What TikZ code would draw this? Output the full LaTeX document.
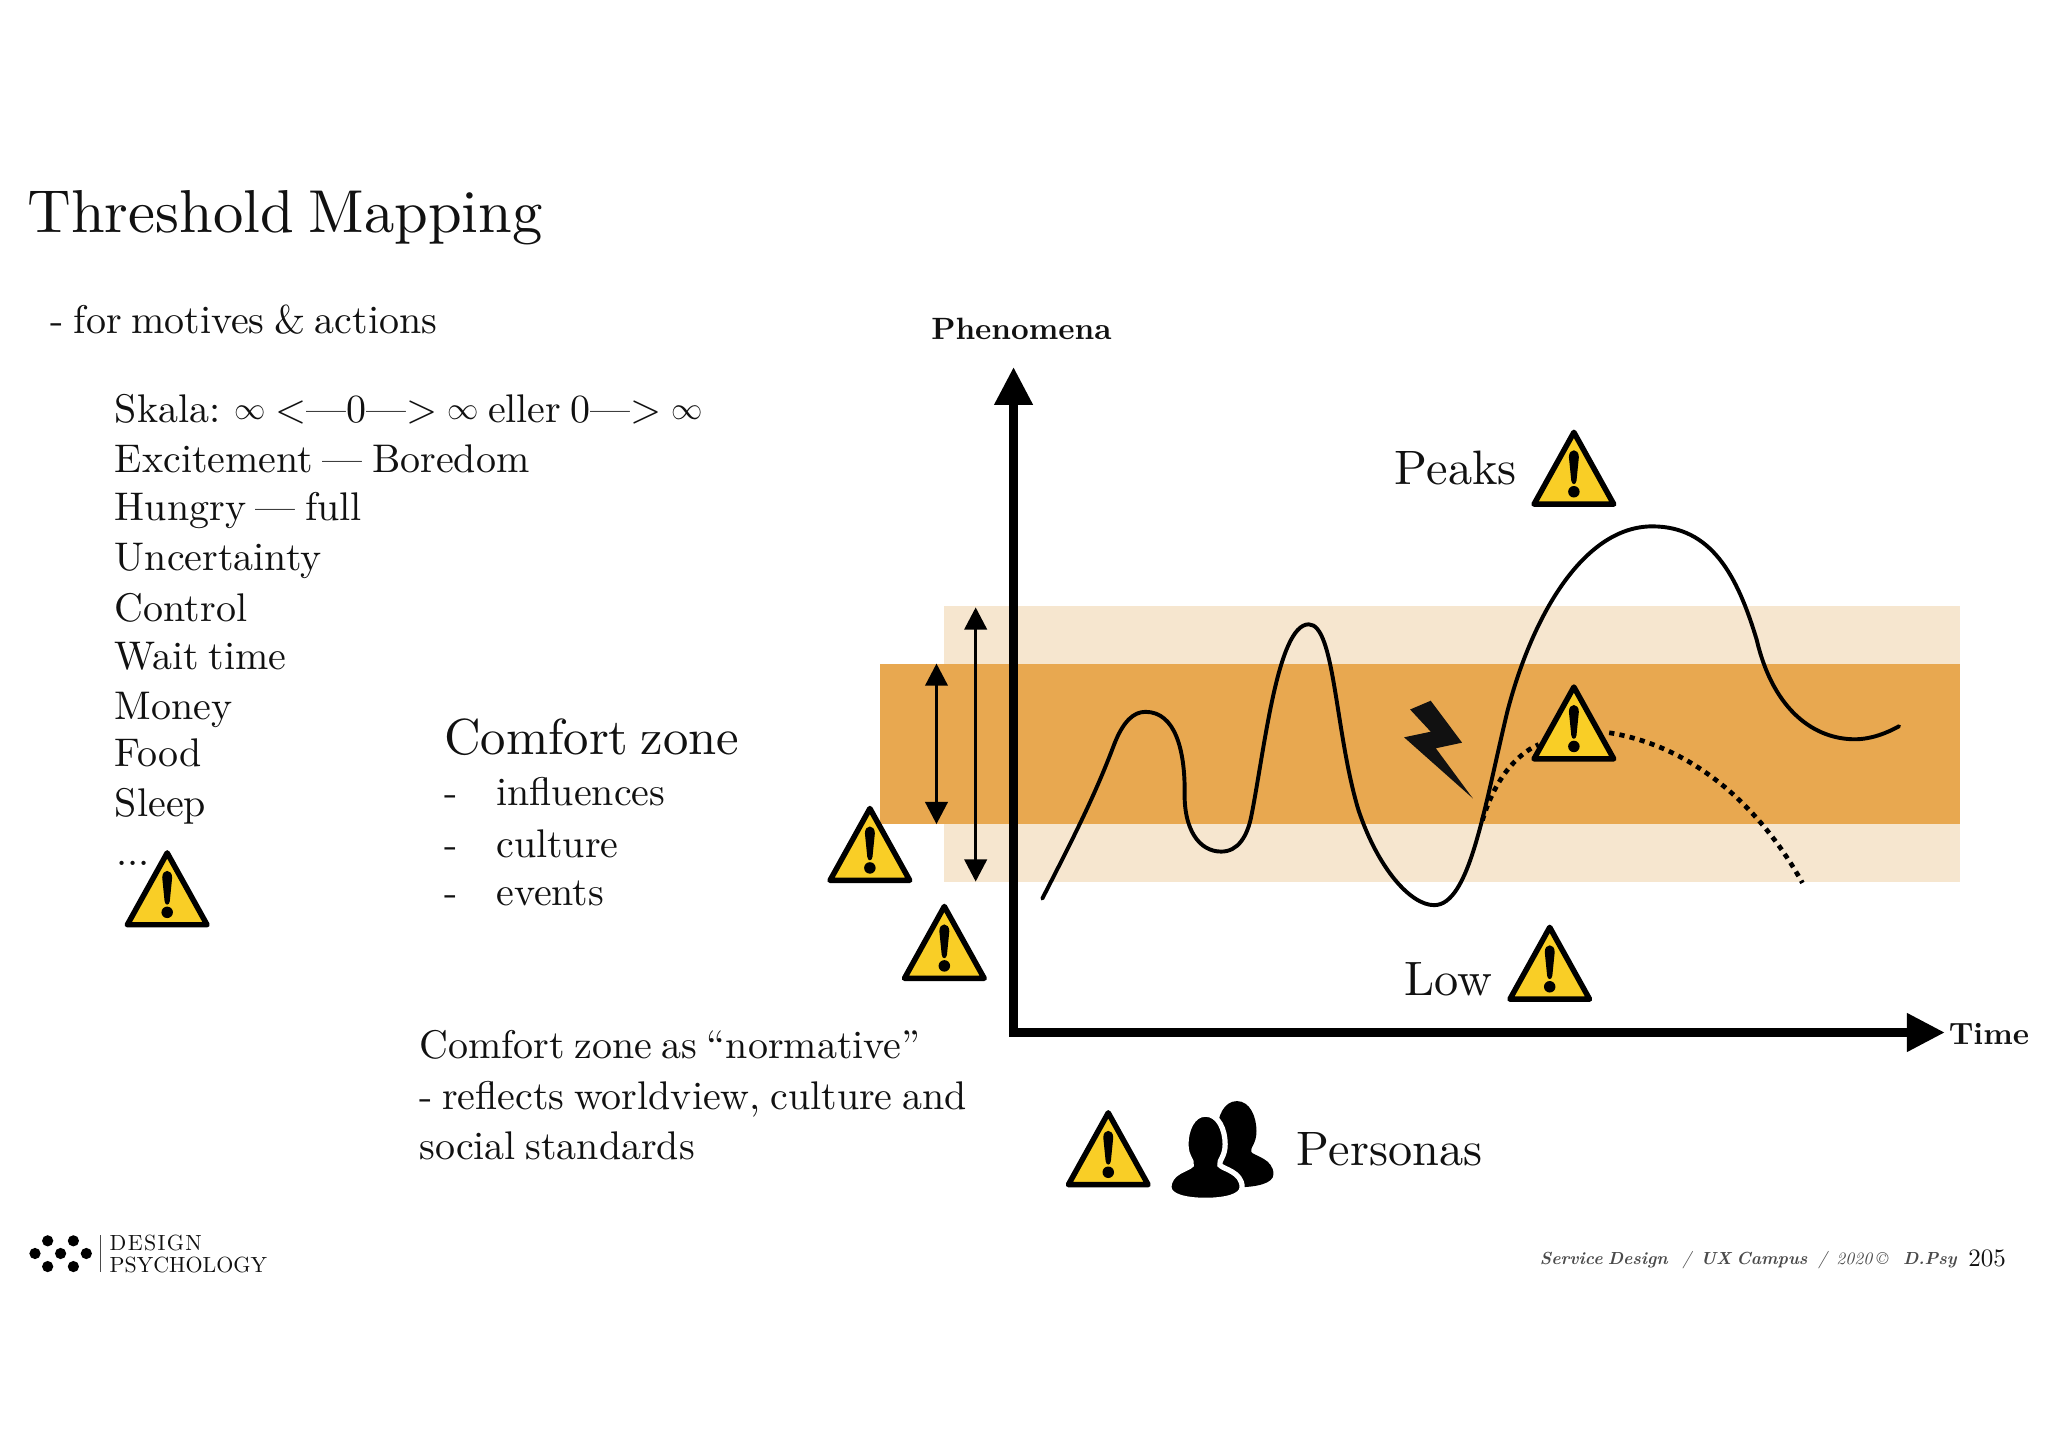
\documentclass[tikz,border=0pt]{standalone}
\usepackage{fontspec}
\setmainfont{lmroman10-regular.otf}[BoldFont=lmroman10-bold.otf,ItalicFont=lmroman10-italic.otf,BoldItalicFont=lmroman10-bolditalic.otf,Ligatures=TeX,WordSpace=0.72]
\usetikzlibrary{arrows.meta}
\definecolor{bandlight}{HTML}{F6E6CF}
\definecolor{banddark}{HTML}{E8A850}
\definecolor{warny}{HTML}{F9CE26}
\definecolor{ink}{HTML}{111111}
\definecolor{foot}{HTML}{4A4A4A}
\tikzset{
  x=0.5pt,y=-0.5pt,
  txt/.style={inner sep=0pt,outer sep=0pt,anchor=base west,text=ink,align=left},
  body/.style={txt,font=\fontsize{15.3}{18}\selectfont},
  big/.style={txt,font=\fontsize{18.5}{22}\selectfont},
  axislab/.style={txt,font=\fontsize{11.8}{13}\selectfont\bfseries},
  footb/.style={txt,text=foot,font=\fontsize{6.7}{9}\selectfont\bfseries\itshape},
  footm/.style={txt,text=foot,font=\fontsize{6.7}{9}\selectfont\itshape},
  axisline/.style={line width=3.3pt,line join=miter,{Triangle[width=14pt,length=14.5pt]}-{Triangle[width=14pt,length=14.5pt]}},
  span/.style={line width=1.3pt,{Triangle[width=8.5pt,length=8.5pt]}-{Triangle[width=8.5pt,length=8.5pt]}},
  warn/.pic={
    \path[fill=warny,draw=black,line width=2.1pt,line join=round] (0,3)--(30.5,58)--(-30.5,58)--cycle;
    \fill[black] (-3.8,22) .. controls (-3.8,15) and (3.8,15) .. (3.8,22) -- (2,40) .. controls (1.5,43.5) and (-1.5,43.5) .. (-2,40) -- cycle;
    \fill[black] (0,48.5) circle (4.4);
  },
  person/.pic={
    \path[pic actions] (0,0) .. controls (10,0) and (15,12) .. (15,23) .. controls (15,33) and (10,35) .. (11,39)
      .. controls (13,42) and (28,44) .. (28,56) .. controls (28,63) and (15,66) .. (0,66)
      .. controls (-15,66) and (-28,63) .. (-28,56) .. controls (-28,44) and (-13,42) .. (-11,39)
      .. controls (-10,35) and (-15,33) .. (-15,23) .. controls (-15,12) and (-10,0) .. (0,0) -- cycle;
  }
}
\newcommand{\infsym}{\raisebox{1.2pt}{\fontsize{12.5}{16}\selectfont$\infty$}}
\begin{document}
\begin{tikzpicture}
\useasboundingbox (0,0) rectangle (1568,1107.9);
% bands
\fill[bandlight] (723,464) rectangle (1500.5,675);
\fill[banddark] (674,508) rectangle (1500.5,631);
% axes
\coordinate (ytip) at (776,281);
\coordinate (orig) at (776,790.5);
\coordinate (xtip) at (1489,790.5);
\draw[axisline] (ytip) -- (orig) -- (xtip);
% spans
\coordinate (s1a) at (717,508);\coordinate (s1b) at (717,631);
\coordinate (s2a) at (747,465);\coordinate (s2b) at (747,675);
\draw[span] (s1a) -- (s1b);
\draw[span] (s2a) -- (s2b);
% dotted
\draw[black,line width=1.8pt,dash pattern=on 2pt off 2pt] (1135,628) .. controls (1144,598) and (1160,578) .. (1178,570);
\draw[black,line width=1.8pt,dash pattern=on 2pt off 2pt] (1232,561) .. controls (1300,572) and (1350,622) .. (1380,676);
% curve
\draw[black,line width=1.5pt,line cap=round,line join=round]
 (798,688) .. controls (820,645) and (838,610) .. (853,570)
 .. controls (860,552) and (868,545) .. (877,545)
 .. controls (900,545) and (907,575) .. (907,605)
 .. controls (906,635) and (918,652) .. (935,652)
 .. controls (948,652) and (955,640) .. (958,625)
 .. controls (968,575) and (978,478) .. (1002,478)
 .. controls (1022,478) and (1022,560) .. (1040,620)
 .. controls (1055,665) and (1080,693) .. (1098,693)
 .. controls (1125,693) and (1136,620) .. (1154,545)
 .. controls (1174,468) and (1214,403) .. (1265,403)
 .. controls (1310,403) and (1330,440) .. (1345,490)
 .. controls (1358,545) and (1390,566) .. (1420,566)
 .. controls (1433,566) and (1445,561) .. (1454,556);
% lightning
\fill[ink] (1079.6,543.2)--(1095.4,536.5)--(1119.4,568.6)--(1099.3,572.9)--(1127.6,611.2)--(1075,564.5)--(1095.4,560.2)--cycle;
% text under warnings
\node[body] (l10) at (89,663) {...};
% warnings
\pic at (128,650) {warn};
\pic at (1205,328) {warn};
\pic at (1205,523) {warn};
\pic at (666,616) {warn};
\pic at (723,691) {warn};
\pic at (1186.5,707) {warn};
\pic at (848.5,849) {warn};
% persons
\pic[fill=black] at (947,843) {person};
\pic[fill=black,draw=white,line width=2pt] at (923,853) {person};
% texts
\node[txt,font=\fontsize{23.2}{28}\selectfont] (title) at (21,178) {Threshold Mapping};
\node[body] (sub) at (39,255.5) {- for motives \& actions};
\node[body] (l1) at (88,323.5) {Skala: \infsym{} <—0—> \infsym{} eller 0—> \infsym};
\node[body] (l2) at (88,361.5) {Excitement — Boredom};
\node[body] (l3) at (88,398.5) {Hungry — full};
\node[body] (l4) at (88,436.5) {Uncertainty};
\node[body] (l5) at (88,475.5) {Control};
\node[body] (l6) at (88,512.5) {Wait time};
\node[body] (l7) at (88,550.5) {Money};
\node[body] (l8) at (88,586.5) {Food};
\node[body] (l9) at (88,625.5) {Sleep};
\node[txt,font=\fontsize{19.4}{24}\selectfont] (cz) at (340,578) {Comfort zone};
\node[body] (d1) at (340,616.5) {-};
\node[body] (c1) at (380,616.5) {influences};
\node[body] (d2) at (340,656.5) {-};
\node[body] (c2) at (380,656.5) {culture};
\node[body] (d3) at (340,693.5) {-};
\node[body] (c3) at (380,693.5) {events};
\node[body] (n1) at (321,810.5) {Comfort zone as “normative”};
\node[body] (n2) at (321,849.5) {- reflects worldview, culture and};
\node[body] (n3) at (321,887.5) {social standards};
\node[axislab] (phen) at (713,260) {Phenomena};
\node[axislab] (time) at (1492,800) {Time};
\node[big] (peaks) at (1068,371) {Peaks};
\node[big] (low) at (1075,762) {Low};
\node[big] (pers) at (993,892) {Personas};
% logo
\foreach \px/\py in {36.5/950,56.2/950,26.8/959.7,46.4/959.7,66.1/959.7,36.5/969.7,56.2/969.7}
  \fill[black] (\px,\py) circle (4.3);
\coordinate (bara) at (77.1,945.6);\coordinate (barb) at (77.1,974);
\draw[foot,line width=0.5pt] (bara) -- (barb);
\node[txt,font=\fontsize{8.4}{10}\selectfont\addfontfeature{LetterSpace=6}] (lg1) at (84,957.5) {DESIGN};
\node[txt,font=\fontsize{8.4}{10}\selectfont] (lg2) at (84,974.5) {PSYCHOLOGY};
% footer
\node[footb] (f1) at (1179,968.5) {Service Design};
\node[footm] (f2) at (1288,968.5) {/};
\node[footb] (f3) at (1302,968.5) {UX Campus};
\node[footm] (f4) at (1392,968.5) {/};
\node[footm] (f5) at (1406,968.5) {2020 ©};
\node[footb] (f6) at (1457,968.5) {D.Psy};
\node[txt,font=\fontsize{9.6}{11}\selectfont] (pg) at (1507,970) {205};
\end{tikzpicture}
\end{document}
